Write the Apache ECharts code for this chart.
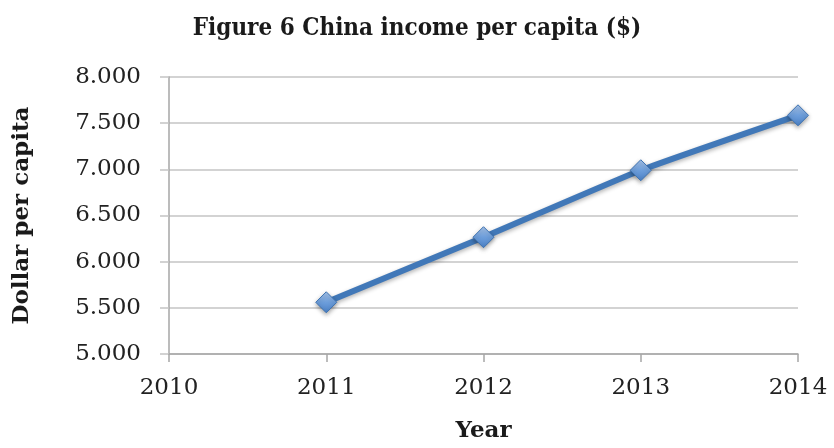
<!DOCTYPE html>
<html>
<head>
<meta charset="utf-8">
<script src="https://cdn.jsdelivr.net/npm/echarts@6/dist/echarts.min.js"></script>
<style>
  html, body { margin: 0; padding: 0; background: #fff; }
  #chart { width: 834px; height: 448px; }
</style>
</head>
<body>
<div id="chart"></div>
<script>
// China income per capita, US dollars
const years = [2011, 2012, 2013, 2014];
const incomePerCapita = [5560, 6265, 6990, 7585];
const yTicks = [5000, 5500, 6000, 6500, 7000, 7500, 8000];
const xTicks = [2010, 2011, 2012, 2013, 2014];

const serif = '"DejaVu Serif", "Liberation Serif", serif';
const serifCond = '"DejaVu Serif Condensed", "DejaVu Serif", serif';

// thousands separator as a dot: 8000 -> 8.000
function fmtDot(v) {
  const s = String(Math.round(v));
  return s.replace(/\B(?=(\d{3})+(?!\d))/g, '.');
}

const chart = echarts.init(document.getElementById('chart'), null, { renderer: 'canvas' });

chart.setOption({
  animation: false,
  backgroundColor: '#ffffff',
  title: {
    text: 'Figure 6 China income per capita ($)',
    left: 'center',
    top: 12,
    textStyle: { fontFamily: serifCond, fontWeight: 'bold', fontSize: 24, color: '#1a1a1a' }
  },
  grid: { left: 169, right: 36, top: 77, bottom: 86 },
  xAxis: {
    type: 'value',
    min: xTicks[0],
    max: xTicks[xTicks.length - 1],
    interval: 1,
    name: 'Year',
    nameLocation: 'middle',
    nameGap: 66,
    nameTextStyle: { fontFamily: serif, fontWeight: 'bold', fontSize: 23, color: '#1a1a1a' },
    axisLine: { show: true, lineStyle: { color: '#a6a6a6', width: 1.5 } },
    axisTick: { show: true, length: 8, lineStyle: { color: '#a6a6a6', width: 1.5 } },
    axisLabel: { fontFamily: serif, fontSize: 23, color: '#222', margin: 23, formatter: v => String(v) },
    splitLine: { show: false }
  },
  yAxis: {
    type: 'value',
    min: yTicks[0],
    max: yTicks[yTicks.length - 1],
    interval: 500,
    name: 'Dollar per capita',
    nameLocation: 'middle',
    nameRotate: 90,
    nameGap: 135,
    nameTextStyle: { fontFamily: serif, fontWeight: 'bold', fontSize: 23, color: '#1a1a1a' },
    axisLine: { show: true, lineStyle: { color: '#a6a6a6', width: 1.5 } },
    axisTick: { show: true, length: 9, lineStyle: { color: '#c4c4c4', width: 1.5 } },
    axisLabel: { fontFamily: serif, fontSize: 23, color: '#222', margin: 28, formatter: fmtDot },
    splitLine: { show: true, lineStyle: { color: '#c4c4c4', width: 1.5 } }
  },
  series: [{
    type: 'line',
    data: years.map((y, i) => [y, incomePerCapita[i]]),
    smooth: 0.15,
    symbol: 'diamond',
    symbolSize: 21,
    lineStyle: {
      color: '#4178b8', width: 6,
      shadowColor: 'rgba(0,0,0,0.3)', shadowBlur: 4, shadowOffsetY: 2
    },
    itemStyle: {
      color: new echarts.graphic.LinearGradient(0, 0, 0, 1, [
        { offset: 0, color: '#a9c6ec' },
        { offset: 0.5, color: '#6d9edb' },
        { offset: 1, color: '#4a80c6' }
      ]),
      borderColor: '#3f74b3',
      borderWidth: 1,
      shadowColor: 'rgba(0,0,0,0.35)', shadowBlur: 4, shadowOffsetY: 2
    },
    z: 3
  }]
});
</script>
</body>
</html>
